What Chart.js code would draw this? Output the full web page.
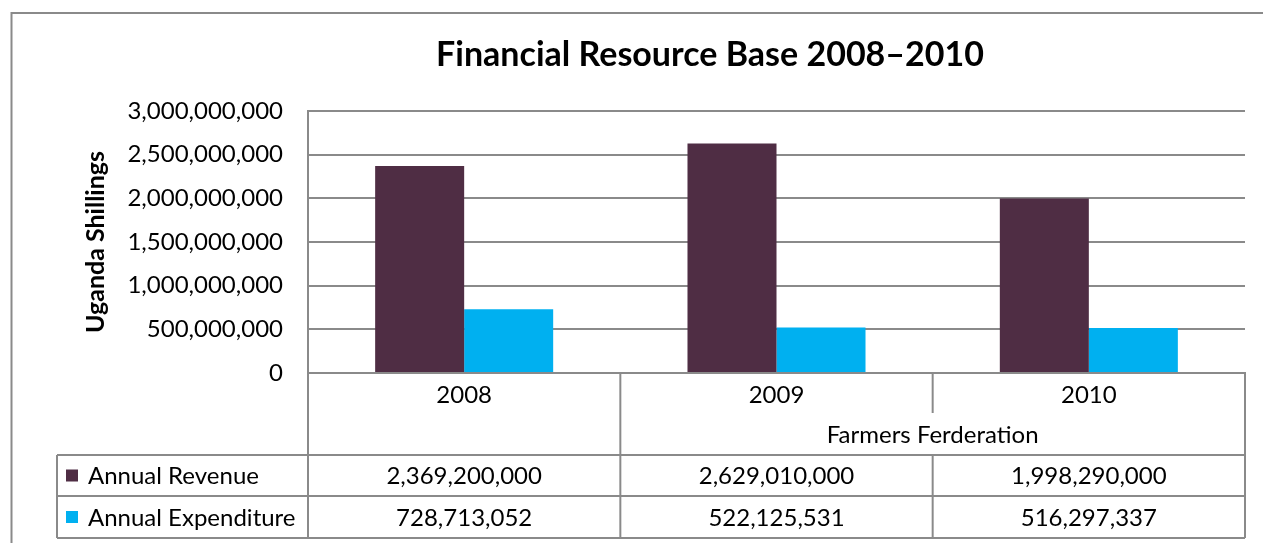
<!DOCTYPE html>
<html>
<head>
<meta charset="utf-8">
<script src="https://cdn.jsdelivr.net/npm/chart.js@4"></script>
<style>
  html, body { margin: 0; padding: 0; background: #fff; }
  #wrap { position: relative; width: 1263px; height: 543px; }
</style>
</head>
<body>
<div id="wrap"><canvas id="chart" width="1263" height="543"></canvas></div>
<script>
// Financial Resource Base 2008–2010 — bar chart with an Excel-style data table under it.
const YEARS = ["2008", "2009", "2010"];
const GROUPS = ["", "Farmers Ferderation", "Farmers Ferderation"];   // second-level category row
const REVENUE = [2369200000, 2629010000, 1998290000];
const EXPENDITURE = [728713052, 522125531, 516297337];
const Y_TICKS = [0, 500000000, 1000000000, 1500000000, 2000000000, 2500000000, 3000000000];

const SERIES = [
  { label: "Annual Revenue", data: REVENUE, color: "#4f2d44" },
  { label: "Annual Expenditure", data: EXPENDITURE, color: "#00b0f0" },
];

const FONT = "Lato, 'Open Sans', sans-serif";
const LINE = "#8a8a8a";
const TXT = 24;
const fmt = (v) => v.toLocaleString("en-US");

Chart.defaults.font.family = FONT;
Chart.defaults.color = "#000";

// outer frame of the chart object; title box nudged so it centres like Excel's
const framePlugin = {
  id: "frame",
  afterLayout(chart) {
    if (chart.titleBlock) chart.titleBlock.left = 175;
  },
  beforeDraw(chart) {
    const ctx = chart.ctx;
    ctx.save();
    ctx.strokeStyle = LINE;
    ctx.lineWidth = 2;
    ctx.strokeRect(11.5, 13, 1400, 700);
    ctx.restore();
  },
};

// data table below the plot, columns taken from the x scale
const tablePlugin = {
  id: "dataTable",
  afterDraw(chart) {
    const { ctx, chartArea: a } = chart;
    const n = YEARS.length;
    const w = (a.right - a.left) / n;
    const top = a.bottom;
    const mid = top + 40, hdr = top + 82, r1 = hdr + 41, r2 = r1 + 42;
    const legLeft = 57;
    const line = (x1, y1, x2, y2) => { ctx.beginPath(); ctx.moveTo(x1, y1); ctx.lineTo(x2, y2); ctx.stroke(); };

    ctx.save();
    ctx.strokeStyle = LINE;
    ctx.lineWidth = 2;
    line(legLeft, hdr, a.right, hdr);
    line(legLeft, r1, a.right, r1);
    line(legLeft, r2, a.right, r2);
    line(legLeft, hdr, legLeft, r2);
    for (let i = 0; i <= n; i++) {
      const xb = a.left + i * w;
      if (i === 0 || i === n || GROUPS[i - 1] !== GROUPS[i]) {
        line(xb, top, xb, r2);
      } else {
        line(xb, top, xb, mid);
        line(xb, hdr, xb, r2);
      }
    }

    ctx.fillStyle = "#000";
    ctx.font = `${TXT}px ${FONT}`;
    ctx.textAlign = "center";
    ctx.textBaseline = "middle";
    // group labels spanning their categories
    let s = 0;
    for (let i = 1; i <= n; i++) {
      if (i === n || GROUPS[i] !== GROUPS[s]) {
        if (GROUPS[s]) ctx.fillText(GROUPS[s], a.left + ((s + i) / 2) * w, (mid + hdr) / 2 + 1);
        s = i;
      }
    }

    const rows = [[hdr, r1], [r1, r2]];
    SERIES.forEach((ser, k) => {
      const cy = (rows[k][0] + rows[k][1]) / 2;
      ctx.fillStyle = ser.color;
      ctx.fillRect(66, cy - 6, 12, 12);
      ctx.fillStyle = "#000";
      ctx.textAlign = "left";
      ctx.fillText(ser.label, 88, cy + 1);
      ctx.textAlign = "center";
      ser.data.forEach((v, i) => ctx.fillText(fmt(v), a.left + (i + 0.5) * w, cy + 1));
    });
    ctx.restore();
  },
};

new Chart(document.getElementById("chart"), {
  type: "bar",
  data: {
    labels: YEARS,
    datasets: SERIES.map((s) => ({
      label: s.label, data: s.data, backgroundColor: s.color,
      borderWidth: 0, categoryPercentage: 0.57, barPercentage: 1,
    })),
  },
  options: {
    responsive: false,
    animation: false,
    layout: { padding: { left: 57, right: 18, top: 0, bottom: 0 } },
    plugins: {
      legend: { display: false },
      tooltip: { enabled: false },
      title: {
        display: true, text: "Financial Resource Base 2008–2010", color: "#000",
        font: { size: 34, weight: "bold", lineHeight: 1.2 },
        padding: { top: 35, bottom: 35.2 },
      },
    },
    scales: {
      x: {
        afterFit: (sc) => { sc.height = 170; },
        grid: { display: false, drawTicks: false },
        border: { display: true, color: LINE, width: 2 },
        ticks: { font: { size: TXT }, color: "#000", padding: 8 },
      },
      y: {
        min: 0, max: 3000000000,
        afterFit: (sc) => { sc.width = 251; },
        afterBuildTicks: (sc) => { sc.ticks = Y_TICKS.map((v) => ({ value: v })); },
        grid: { color: LINE, lineWidth: 2, drawTicks: false },
        border: { display: true, color: LINE, width: 2 },
        ticks: { font: { size: TXT }, color: "#000", padding: 25, callback: (v) => fmt(v) },
        title: {
          display: true, text: "Uganda Shillings", color: "#000",
          font: { size: 25, weight: "bold", lineHeight: 1.2 },
          padding: { top: 24 },
        },
      },
    },
  },
  plugins: [framePlugin, tablePlugin],
});
</script>
</body>
</html>
